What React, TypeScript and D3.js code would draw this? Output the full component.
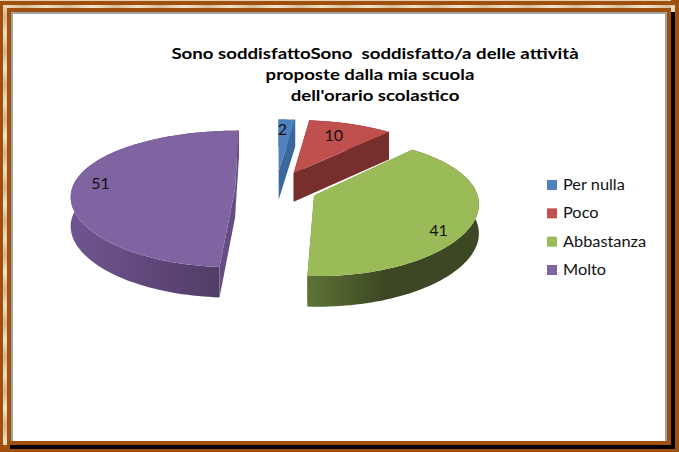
import * as d3 from "d3";

const categories = ["Per nulla", "Poco", "Abbastanza", "Molto"];
const values = [2, 10, 41, 51];
const titleLines = [
  "Sono soddisfattoSono  soddisfatto/a delle attività",
  "proposte dalla mia scuola",
  "dell'orario scolastico",
];
const topColors = ["#4f81bd", "#c0504d", "#9bbb59", "#8064a2"];
const cutColors = ["#3a689e", "#772f2d", "#5d7034", "#664c85"];
const wallFrom = ["#3a689e", "#772f2d", "#5f7336", "#6f5590"];
const wallTo = ["#2c4d75", "#772f2d", "#3c4823", "#4e3962"];

const width = 679;
const height = 452;

// tilted pie with a bit of perspective, back of the disc is squeezed
const cx = 276;
const cy = 189;
const rx = 160;
const ry = 65.5;
const persp = 0.149;
const perspX = 0.1;
const depth = 29;
// each slice is pulled out by its own amount and drawn at its own radius
const explode = [0.29, 0.276, 0.255, 0.256];
const radius = [0.97, 1, 1.012, 1.02];

function project(u: number, v: number, drop = 0) {
  const w = 1 / (1 - persp * v);
  const wx = 1 / (1 - perspX * v);
  return [cx + rx * u * wx, cy + ry * v * w + drop * (1 + 0.05 * v)] as [number, number];
}

// point on slice in disc coords, angle clockwise from the back
function slicePoint(a: number, r: number, mid: number, e: number, drop = 0) {
  const u = r * Math.sin(a) + e * Math.sin(mid);
  const v = -r * Math.cos(a) - e * Math.cos(mid);
  return project(u, v, drop);
}

const line = d3.line();

function arcAngles(a0: number, a1: number) {
  const n = Math.max(2, Math.ceil((a1 - a0) / 0.03));
  return d3.range(n + 1).map((i) => a0 + ((a1 - a0) * i) / n);
}

const pie = d3.pie<number>().sort(null).startAngle(0).endAngle(2 * Math.PI);
const slices = pie(values);

const legendY = d3.scalePoint<string>().domain(categories).range([185, 270]);

// nudges for the data labels, excel puts them a bit off the radius
const labelFit = [
  { r: 0.8, dx: -3, dy: 2 },
  { r: 0.7, dx: -1, dy: -2 },
  { r: 0.75, dx: 8, dy: 15 },
  { r: 0.87, dx: 4, dy: -3 },
];

const fontFamily = "Lato, 'Open Sans', sans-serif";

function Frame() {
  return (
    <g>
      <rect width={width} height={height} fill="#a04f0c" />
      <rect x={0} y={0} width={671} height={1} fill="#e6d2b0" />
      <rect x={3} y={5} width={668} height={3} fill="url(#creamH)" />
      <rect x={671} y={5} width={4} height={7} fill="#e8d6b8" />
      <rect x={3} y={5} width={4} height={440} fill="url(#creamV)" />
      <rect x={671} y={12} width={4} height={437} fill="#000" />
      <rect x={10} y={445} width={665} height={4} fill="#000" />
      <rect x={7} y={8} width={664} height={4} fill="#a04f0c" />
      <rect x={7} y={8} width={4} height={437} fill="#a04f0c" />
      <rect x={11} y={12} width={656} height={429} fill="#a0a0a0" />
      <rect x={13} y={14} width={652} height={427} fill="#fff" />
    </g>
  );
}

export default function App() {
  return (
    <svg
      width={width}
      height={height}
      viewBox={`0 0 ${width} ${height}`}
      style={{ position: "absolute", left: 0, top: 0, display: "block" }}
    >
      <defs>
        <linearGradient id="creamH" gradientUnits="userSpaceOnUse" x1={0} x2={46} y1={0} y2={0} spreadMethod="reflect">
          <stop offset="0" stopColor="#f2e6d0" />
          <stop offset="0.5" stopColor="#d6bd96" />
          <stop offset="1" stopColor="#efe0c6" />
        </linearGradient>
        <linearGradient id="creamV" gradientUnits="userSpaceOnUse" x1={0} x2={0} y1={0} y2={34} spreadMethod="reflect">
          <stop offset="0" stopColor="#f0e2ca" />
          <stop offset="0.5" stopColor="#d2b78e" />
          <stop offset="1" stopColor="#eddcc0" />
        </linearGradient>
        {categories.map((c, i) => (
          <linearGradient key={c} id={`wall${i}`} x1="0" x2="1" y1="0" y2="0">
            <stop offset="0" stopColor={wallFrom[i]} />
            <stop offset={i === 2 ? "0.45" : "1"} stopColor={wallTo[i]} />
          </linearGradient>
        ))}
      </defs>
      <Frame />

      {titleLines.map((t, i) => (
        <text
          key={t}
          transform={`translate(${i === 1 ? 370 : 375},${59 + i * 21}) scale(1.165,1)`}
          textAnchor="middle"
          fontFamily={fontFamily}
          fontWeight={700}
          fontSize={16}
          fill="#000"
          style={{ whiteSpace: "pre" }}
        >
          {t}
        </text>
      ))}

      {slices.map((s, i) => {
        const mid = (s.startAngle + s.endAngle) / 2;
        const e = explode[i];
        const r = radius[i];
        const angles = arcAngles(s.startAngle, s.endAngle);
        const apex = slicePoint(0, 0, mid, e);
        const apexLow = slicePoint(0, 0, mid, e, depth);
        const rim = angles.map((a) => slicePoint(a, r, mid, e));
        const rimLow = angles.map((a) => slicePoint(a, r, mid, e, depth));
        const last = rim.length - 1;
        const fit = labelFit[i];
        const lab = slicePoint(mid, fit.r, mid, e);
        return (
          <g key={categories[i]}>
            <path d={line([...rim, ...rimLow.slice().reverse()]) + "Z"} fill={`url(#wall${i})`} />
            <path d={line([apex, rim[0], rimLow[0], apexLow]) + "Z"} fill={cutColors[i]} />
            <path d={line([apex, rim[last], rimLow[last], apexLow]) + "Z"} fill={cutColors[i]} />
            <path d={line([apex, ...rim]) + "Z"} fill={topColors[i]} />
            <text
              transform={`translate(${lab[0] + fit.dx},${lab[1] + fit.dy + 5}) scale(1.1,1)`}
              textAnchor="middle"
              fontFamily={fontFamily}
              fontSize={14.5}
              fill="#111"
            >
              {values[i]}
            </text>
          </g>
        );
      })}

      {categories.map((c, i) => (
        <g key={c}>
          <rect x={547} y={legendY(c)! - 5} width={10} height={10} fill={topColors[i]} />
          <text
            transform={`translate(563,${legendY(c)! + 5}) scale(1.09,1)`}
            fontFamily={fontFamily}
            fontSize={15}
            fill="#111"
          >
            {c}
          </text>
        </g>
      ))}
    </svg>
  );
}
